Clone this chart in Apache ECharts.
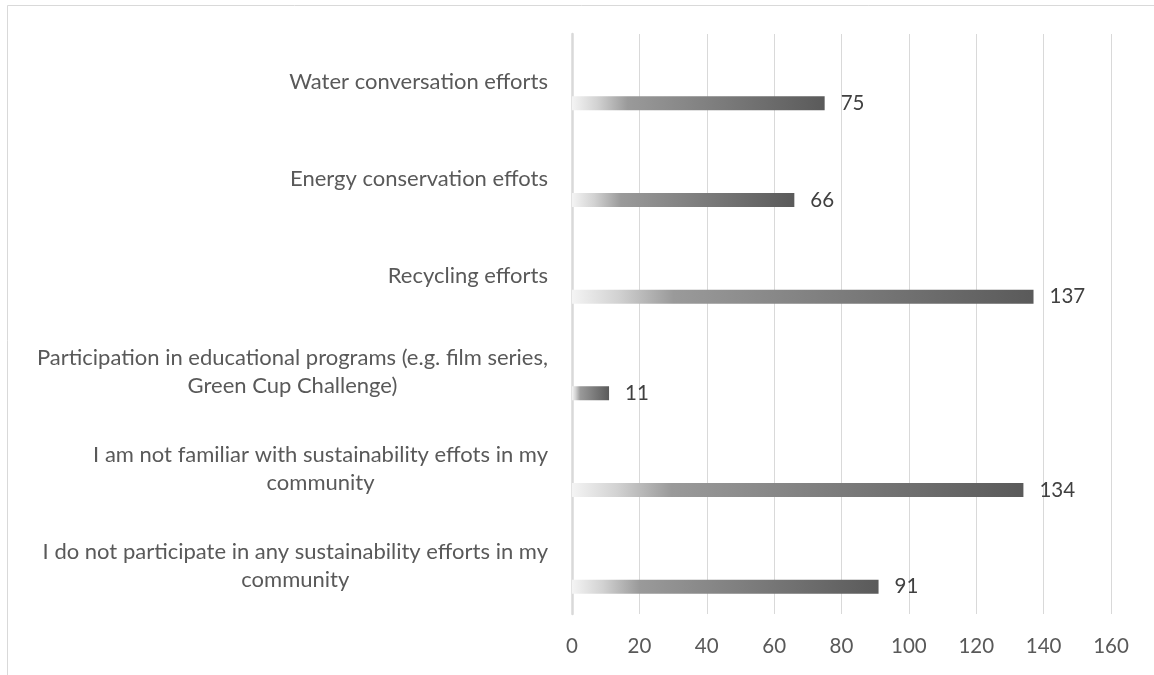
<!DOCTYPE html>
<html>
<head>
<meta charset="utf-8">
<title>Sustainability efforts</title>
<script src="https://cdn.jsdelivr.net/npm/echarts@6/dist/echarts.min.js"></script>
<style>
  html, body { margin: 0; padding: 0; background: #fff; }
  #main { width: 1154px; height: 675px; }
</style>
</head>
<body>
<div id="main"></div>
<script>
// categories, top to bottom (line breaks where the original wraps them)
var categories = [
  'Water conversation efforts',
  'Energy conservation effots',
  'Recycling efforts',
  'Participation in educational programs (e.g. film series,\nGreen Cup Challenge)',
  'I am not familiar with sustainability effots in my\ncommunity',
  'I do not participate in any sustainability efforts in my\ncommunity'
];
var counts = [75, 66, 137, 11, 134, 91];
var xTicks = { min: 0, max: 160, step: 20 };

var fontName = 'Lato';
var myChart = echarts.init(document.getElementById('main'));

var barFill = new echarts.graphic.LinearGradient(0, 0, 1, 0, [
  { offset: 0, color: '#f4f4f4' },
  { offset: 0.1, color: '#d2d2d2' },
  { offset: 0.22, color: '#9a9a9a' },
  { offset: 1, color: '#5a5a5a' }
]);

var option = {
  animation: false,
  backgroundColor: '#ffffff',
  textStyle: { fontFamily: fontName },
  graphic: [{
    type: 'rect',
    silent: true,
    shape: { x: 7.5, y: 5.5, width: 1300, height: 800 },
    style: { fill: 'none', stroke: '#d9d9d9', lineWidth: 1 }
  }],
  grid: { left: 572, right: 43, top: 34, bottom: 61, containLabel: false },
  xAxis: {
    type: 'value',
    min: xTicks.min,
    max: xTicks.max,
    interval: xTicks.step,
    axisLine: { show: false },
    axisTick: { show: false },
    axisLabel: { margin: 22, fontSize: 20.5, color: '#595959', fontFamily: fontName },
    splitLine: { show: true, lineStyle: { color: '#d9d9d9', width: 1 } }
  },
  yAxis: {
    type: 'category',
    inverse: true,
    data: categories,
    axisLine: { show: true, lineStyle: { color: '#d9d9d9', width: 2.5 } },
    axisTick: { show: false },
    axisLabel: {
      margin: 24,
      formatter: function (value) {
        // each line centred within the label block, block right-aligned to the axis
        return value.split('\n').map(function (s) { return '{c|' + s + '}'; }).join('\n');
      },
      rich: {
        c: { align: 'center', fontSize: 22, lineHeight: 28, color: '#595959', fontFamily: fontName }
      }
    }
  },
  series: [
    {
      // empty slot, keeps the bars below the category centre like the original
      name: 'spacer',
      type: 'bar',
      data: [],
      barWidth: 14,
      barGap: '200%',
      silent: true
    },
    {
      name: 'Responses',
      type: 'bar',
      data: counts,
      barWidth: 14,
      barGap: '200%',
      itemStyle: { color: barFill },
      label: {
        show: true,
        position: 'right',
        distance: 16,
        fontSize: 20.5,
        color: '#404040',
        fontFamily: fontName
      }
    }
  ]
};

myChart.setOption(option);
</script>
</body>
</html>
